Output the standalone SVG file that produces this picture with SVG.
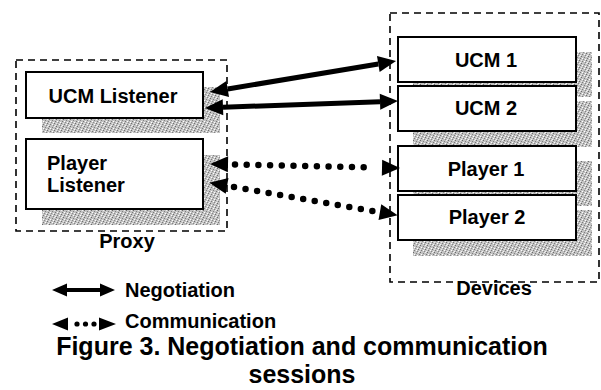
<svg xmlns="http://www.w3.org/2000/svg" width="601" height="390" viewBox="0 0 601 390">
<style>
.box{fill:#fff;stroke:#000;stroke-width:2}
.shadow{fill:url(#stip)}
.group{fill:none;stroke:#000;stroke-width:1.6;stroke-dasharray:7 5}
.lbl{font-family:"Liberation Sans",Arial,sans-serif;font-weight:bold;font-size:20px;fill:#000}
.cap{font-family:"Liberation Sans",Arial,sans-serif;font-weight:bold;font-size:25px;fill:#000;text-anchor:middle}
.mid{text-anchor:middle}
.neg{fill:none;stroke:#000;stroke-width:5;marker-start:url(#head);marker-end:url(#head)}
.com{fill:none;stroke:#000;stroke-width:6.5;stroke-linecap:round;stroke-dasharray:0 11.7;marker-start:url(#dhead);marker-end:url(#dhead)}
</style>
<defs>
<pattern id="stip" width="7" height="7" patternUnits="userSpaceOnUse">
<rect width="7" height="7" fill="#c2c2c2"/>
<rect x="0" y="0" width="1" height="1" fill="#6a6a6a"/>
<rect x="3" y="1" width="1" height="1" fill="#808080"/>
<rect x="5" y="0" width="1" height="1" fill="#f0f0f0"/>
<rect x="1" y="2" width="1" height="1" fill="#ffffff"/>
<rect x="6" y="2" width="1" height="1" fill="#777"/>
<rect x="2" y="3" width="1" height="1" fill="#8a8a8a"/>
<rect x="4" y="3" width="1" height="1" fill="#fff"/>
<rect x="0" y="4" width="1" height="1" fill="#e8e8e8"/>
<rect x="5" y="4" width="1" height="1" fill="#6f6f6f"/>
<rect x="3" y="5" width="1" height="1" fill="#fff"/>
<rect x="1" y="5" width="1" height="1" fill="#7a7a7a"/>
<rect x="6" y="6" width="1" height="1" fill="#f4f4f4"/>
<rect x="4" y="6" width="1" height="1" fill="#858585"/>
</pattern>
<marker id="head" markerUnits="userSpaceOnUse" markerWidth="19" markerHeight="17" refX="0" refY="8" orient="auto-start-reverse" overflow="visible">
<path d="M0,0 L18,8 L0,16 z" fill="#000"/>
</marker>
<marker id="dhead" markerUnits="userSpaceOnUse" markerWidth="19" markerHeight="17" refX="-7" refY="8" orient="auto-start-reverse" overflow="visible">
<path d="M0,0 L18,8 L0,16 z" fill="#000"/>
</marker>
</defs>

<g id="proxy">
<rect class="group" x="16" y="60" width="211" height="171"/>
<text class="lbl mid" x="127" y="248">Proxy</text>
</g>
<g id="devices">
<rect class="group" x="390" y="13" width="209" height="269"/>
<text class="lbl mid" x="494" y="295">Devices</text>
</g>

<g id="ucm-listener">
<rect class="shadow" x="42" y="87" width="178" height="46"/>
<rect class="box" x="26" y="72" width="177" height="46"/>
<text class="lbl mid" x="113" y="103">UCM Listener</text>
</g>
<g id="player-listener">
<rect class="shadow" x="42" y="155" width="178" height="70"/>
<rect class="box" x="26" y="139" width="177" height="70"/>
<text class="lbl" x="47" y="170">Player</text>
<text class="lbl" x="47" y="192">Listener</text>
</g>

<g id="ucm1">
<rect class="shadow" x="413" y="52" width="179" height="45"/>
<rect class="box" x="398" y="37" width="178" height="45"/>
<text class="lbl mid" x="486" y="67">UCM 1</text>
</g>
<g id="ucm2">
<rect class="shadow" x="413" y="101" width="179" height="46"/>
<rect class="box" x="398" y="86" width="178" height="45"/>
<text class="lbl mid" x="486" y="115">UCM 2</text>
</g>
<g id="player1">
<rect class="shadow" x="413" y="161" width="179" height="45"/>
<rect class="box" x="398" y="146" width="178" height="45"/>
<text class="lbl mid" x="486" y="176">Player 1</text>
</g>
<g id="player2">
<rect class="shadow" x="413" y="210" width="179" height="46"/>
<rect class="box" x="398" y="195" width="178" height="45"/>
<text class="lbl mid" x="487" y="224">Player 2</text>
</g>

<g id="connectors">
<path class="neg" d="M227.7,89 L378.3,64"/>
<path class="neg" d="M223,107.3 L380,101.7"/>
<path class="com" d="M235,164.5 L375,167.5"/>
<path class="com" d="M234,187 L373,211"/>
</g>

<g id="legend">
<path d="M66,290 L101,290" fill="none" stroke="#000" stroke-width="4"/>
<path d="M52,290 L67,283.5 L67,296.5 z M115,290 L100,283.5 L100,296.5 z" fill="#000"/>
<text class="lbl" x="125" y="297">Negotiation</text>
<path d="M52,324 L68,317.5 L68,330.5 z M116,324 L99,317.5 L99,330.5 z" fill="#000"/>
<circle cx="77" cy="324" r="2.6" fill="#000"/>
<circle cx="85.5" cy="324" r="2.6" fill="#000"/>
<circle cx="94" cy="324" r="2.6" fill="#000"/>
<text class="lbl" x="125" y="328">Communication</text>
</g>

<g id="caption">
<text class="cap" x="302" y="355">Figure 3.  Negotiation and communication</text>
<text class="cap" x="302" y="383">sessions</text>
</g>
</svg>
